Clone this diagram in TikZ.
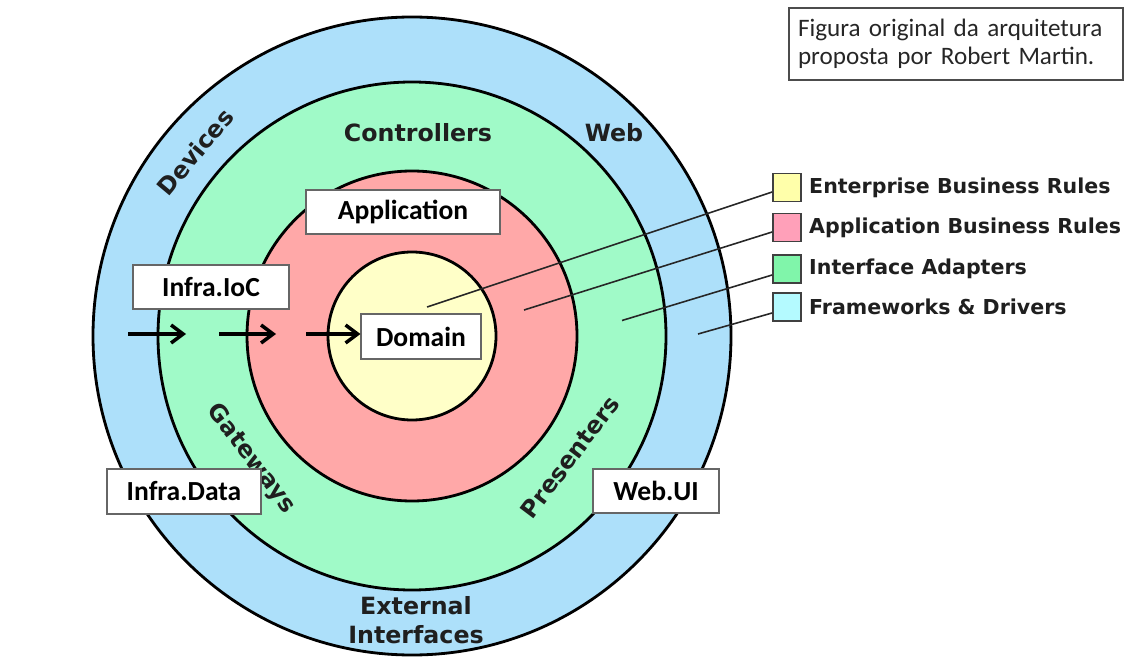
\documentclass[tikz,border=0pt]{standalone}
\usepackage{fontspec}
\usepackage{xcolor}
\usepackage{tikz}
\usetikzlibrary{arrows.meta,positioning}
\newfontfamily\ringfont{DejaVu Sans}
\newfontfamily\boxfont{Carlito}
\definecolor{fwblue}{RGB}{173,224,250}
\definecolor{adgreen}{RGB}{160,250,200}
\definecolor{ucred}{RGB}{255,168,168}
\definecolor{entyellow}{RGB}{255,255,200}
\definecolor{keyyellow}{RGB}{255,255,170}
\definecolor{keypink}{RGB}{255,160,185}
\definecolor{keygreen}{RGB}{128,245,170}
\definecolor{keycyan}{RGB}{180,250,255}
\tikzset{
  ring/.style={draw=black, line width=1.6pt},
  ringlbl/.style={font=\ringfont\bfseries\fontsize{13.5}{16.5}\selectfont,
                  text=black!88, inner sep=0pt},
  projbox/.style={draw=black!60, fill=white, line width=0.6pt, inner sep=0pt,
                  font=\boxfont\bfseries\fontsize{15.7}{18}\selectfont},
  keybox/.style={draw=black!75, line width=1pt, minimum size=0.56cm, inner sep=0pt},
  keytext/.style={font=\ringfont\bfseries\fontsize{11.7}{14}\selectfont,
                  text=black!88, inner sep=0pt, anchor=west},
  lead/.style={line width=0.9pt, black!85},
  flow/.style={line width=2pt, -{Straight Barb[length=2.4mm,width=3.6mm,line width=2pt]}},
}
\begin{document}
\begin{tikzpicture}[x=0.02cm,y=0.02cm]
  \useasboundingbox (0,0) rectangle (1132,670);
  % rings
  \coordinate (c) at (412,334);
  \filldraw[ring, fill=fwblue]    (c) circle[radius=319];
  \filldraw[ring, fill=adgreen]   (c) circle[radius=254];
  \filldraw[ring, fill=ucred]     (c) circle[radius=165];
  \filldraw[ring, fill=entyellow] (c) circle[radius=84];
  % ring labels
  \node[ringlbl]            (ctrl) at (418,537) {Controllers};
  \node[ringlbl]            (web)  at (614,537) {Web};
  \node[ringlbl, rotate=50] (dev)  at (195,518) {Devices};
  \node[ringlbl, rotate=-53] (gw)  at (251,211) {Gateways};
  \node[ringlbl, rotate=53] (pres) at (570,213) {Presenters};
  \node[ringlbl, align=center] (ext) at (416,50) {External\\Interfaces};
  % project boxes
  \node[projbox, minimum width=3.88cm, minimum height=0.88cm] (app)    at (403,458)   {Application};
  \node[projbox, minimum width=3.12cm, minimum height=0.88cm] (ioc)    at (211,383)   {Infra.IoC};
  \node[projbox, minimum width=2.40cm, minimum height=0.90cm] (domain) at (421,333.5) {Domain};
  \node[projbox, minimum width=3.08cm, minimum height=0.90cm] (data)   at (184,178.5) {Infra.Data};
  \node[projbox, minimum width=2.52cm, minimum height=0.88cm] (webui)  at (656,179)   {Web.UI};
  % dependency arrows
  \coordinate (a1) at (128,336);
  \coordinate (b1) at (186,336);
  \coordinate (a2) at (219,336);
  \coordinate (b2) at (276,336);
  \coordinate (a3) at (306,336);
  \draw[flow] (a1) -- (b1);
  \draw[flow] (a2) -- (b2);
  \draw[flow] (a3) -- (a3 -| domain.west);
  % legend
  \node[keybox, fill=keyyellow] (k1) at (787,482.5) {};
  \node[keybox, fill=keypink]   (k2) at (787,442.5) {};
  \node[keybox, fill=keygreen]  (k3) at (787,401)   {};
  \node[keybox, fill=keycyan]   (k4) at (787,363)   {};
  \node[keytext, right=0.14cm of k1] (t1) {Enterprise Business Rules};
  \node[keytext, right=0.14cm of k2] (t2) {Application Business Rules};
  \node[keytext, right=0.14cm of k3] (t3) {Interface Adapters};
  \node[keytext, right=0.14cm of k4] (t4) {Frameworks \& Drivers};
  \coordinate (e1) at (427,363);
  \coordinate (e2) at (524,360);
  \coordinate (e3) at (622,349.5);
  \coordinate (e4) at (698,336);
  \draw[lead] (e1) -- ([yshift=-0.09cm]k1.west);
  \draw[lead] (e2) -- ([yshift=-0.09cm]k2.west);
  \draw[lead] (e3) -- ([yshift=-0.12cm]k3.west);
  \draw[lead] (e4) -- ([yshift=-0.12cm]k4.west);
  % note
  \node[draw=black!70, line width=0.7pt, inner ysep=0pt, inner xsep=0.18cm,
        text width=6.32cm, minimum height=1.44cm, align=left,
        font=\boxfont\fontsize{14.3}{16}\selectfont, text=black!85]
        (note) at (956,626) {Figura original da arquitetura\\proposta por Robert Martin.};
\end{tikzpicture}
\end{document}
